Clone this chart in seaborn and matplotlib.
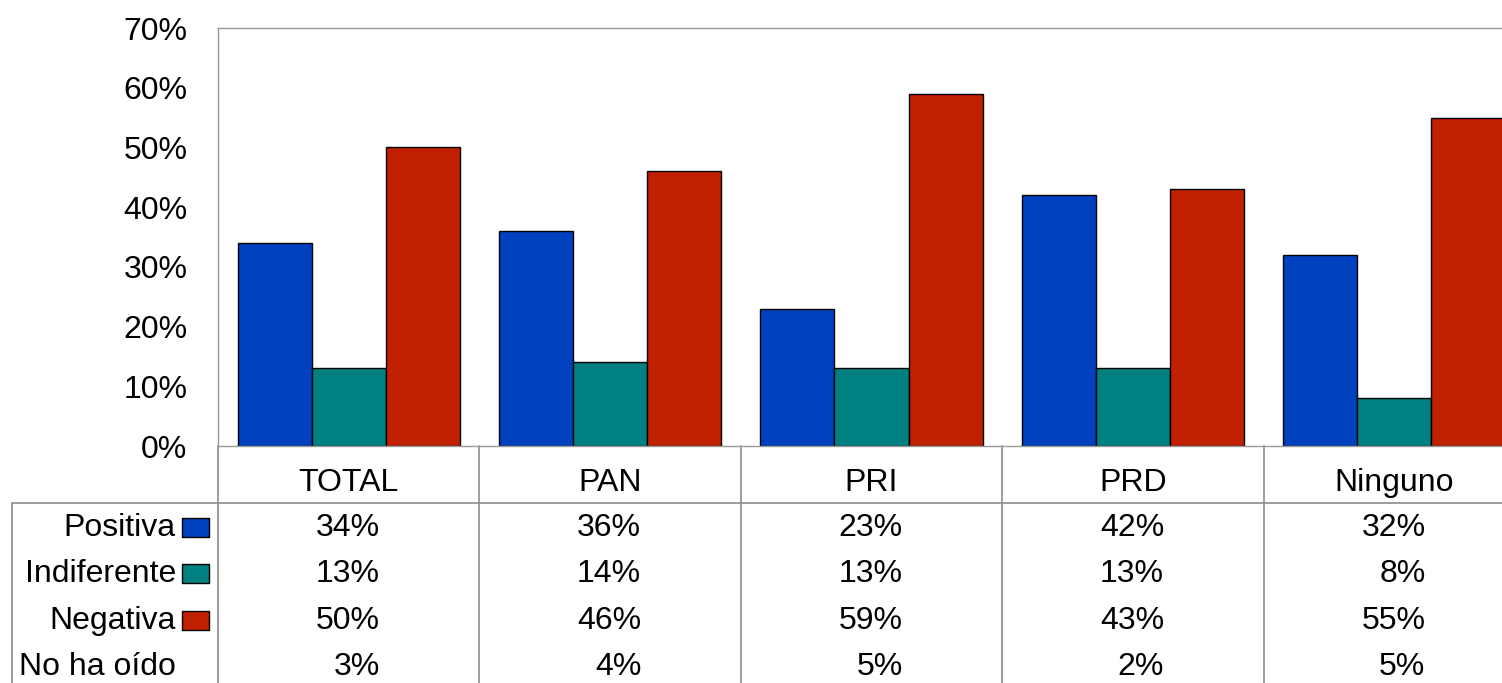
import matplotlib
matplotlib.use("Agg")
import matplotlib.pyplot as plt
import matplotlib.transforms as mtransforms
from matplotlib.patches import Rectangle
import pandas as pd
import seaborn as sns

# Data (percent)
partidos = ['TOTAL', 'PAN', 'PRI', 'PRD', 'Ninguno']
positiva = [34, 36, 23, 42, 32]
indiferente = [13, 14, 13, 13, 8]
negativa = [50, 46, 59, 43, 55]
no_ha_oido = [3, 4, 5, 2, 5]
y_ticks = [0, 10, 20, 30, 40, 50, 60, 70]

series = ['Positiva', 'Indiferente', 'Negativa']
colores = {'Positiva': '#0041C0', 'Indiferente': '#008080', 'Negativa': '#C02000'}

df = pd.DataFrame({
    'partido': partidos * 3,
    'actitud': [s for s in series for _ in partidos],
    'valor': positiva + indiferente + negativa,
})

sns.set_style('white')
plt.rcParams['font.family'] = ['Liberation Sans', 'DejaVu Sans']
plt.rcParams['text.color'] = 'black'
plt.rcParams['ytick.color'] = 'black'
FS = 23

W, H = 1502, 683
fig = plt.figure(figsize=(W / 100, H / 100), dpi=100)
ax = fig.add_axes([218 / W, (H - 446) / H, (1525 - 218) / W, (446 - 28) / H])

sns.barplot(data=df, x='partido', y='valor', hue='actitud', order=partidos,
            hue_order=series, palette=colores, edgecolor='black', linewidth=1,
            width=0.85, saturation=1, legend=False, ax=ax)

ax.set_xlim(-0.5, len(partidos) - 0.5)
ax.set_ylim(0, 70)
ax.set_yticks(y_ticks)
ax.set_yticklabels([f'{v}%' for v in y_ticks], fontsize=FS, color='black')
ax.tick_params(axis='y', length=0, pad=22)
ax.set_xticks([])
ax.set_xlabel('')
ax.set_ylabel('')
for side in ['top', 'left', 'bottom', 'right']:
    ax.spines[side].set_color('#999999')
    ax.spines[side].set_linewidth(1)

# data table below the chart
grid = '#8c8c8c'
trans = mtransforms.blended_transform_factory(ax.transData, fig.transFigure)

def fy(py):
    return 1 - py / H

# header row and grid lines
for i, p in enumerate(partidos):
    ax.text(i, fy(483), p, transform=trans, ha='center', va='center',
            fontsize=FS, clip_on=False)
for b in [-0.5, 0.5, 1.5, 2.5, 3.5]:
    ax.plot([b, b], [fy(446), 0], transform=trans, color=grid, lw=1.2,
            clip_on=False)
fig.add_artist(plt.Line2D([12 / W, 1], [fy(503), fy(503)], color=grid, lw=1.2))
fig.add_artist(plt.Line2D([12 / W, 12 / W], [fy(503), 0], color=grid, lw=1.2))

filas = [('Positiva', positiva), ('Indiferente', indiferente),
         ('Negativa', negativa), ('No ha oído', no_ha_oido)]
row_y = [528, 574, 621, 667]
for (nombre, vals), py in zip(filas, row_y):
    fig.text(176 / W, fy(py), nombre, ha='right', va='center', fontsize=FS)
    if nombre in colores:
        fig.add_artist(Rectangle((182 / W, fy(py + 9)), 27 / W, 19 / H,
                                 transform=fig.transFigure,
                                 facecolor=colores[nombre], edgecolor='black',
                                 lw=1))
    for i, v in enumerate(vals):
        ax.text(i + 0.119, fy(py), f'{v}%', transform=trans, ha='right',
                va='center', fontsize=FS, clip_on=False)

fig.savefig('out.png', dpi=100)
